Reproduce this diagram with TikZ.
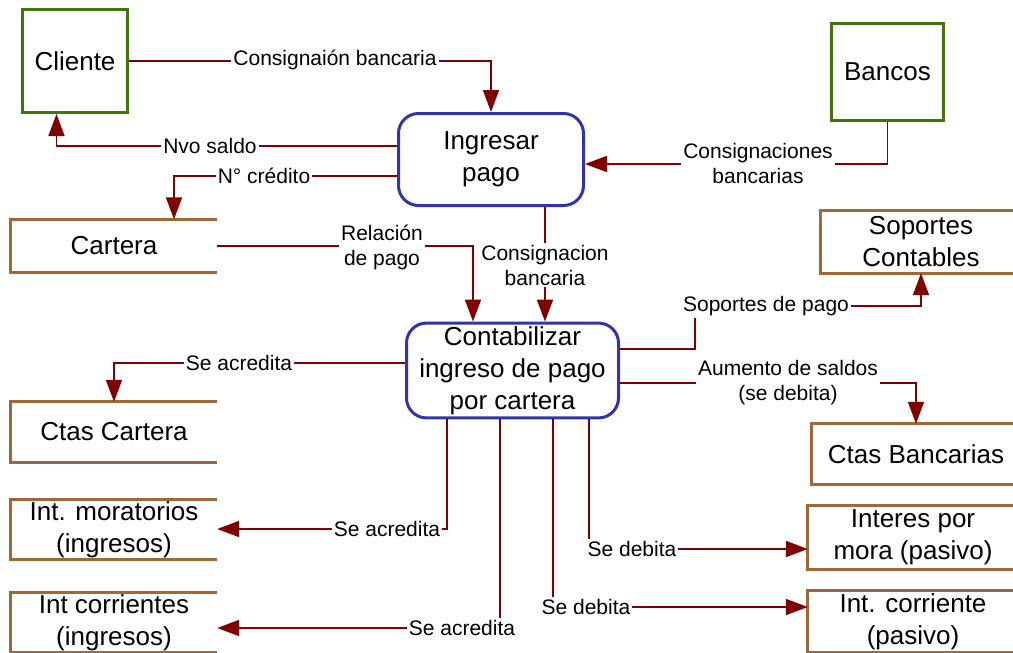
\documentclass[tikz,border=0pt]{standalone}
\usepackage{fontspec}
\setmainfont{Liberation Sans}
\usepackage{xcolor}
\usepackage{tikz}
\usetikzlibrary{arrows.meta, positioning}

\definecolor{verde}{RGB}{64,118,16}
\definecolor{azul}{RGB}{51,51,170}
\definecolor{rojo}{RGB}{128,0,0}
\definecolor{cafe}{RGB}{160,104,56}
\newcommand{\titulo}{\fontsize{26}{32}\selectfont}
\newcommand{\rotulo}{\fontsize{21}{25}\selectfont}

\begin{document}
\begin{tikzpicture}[x=1pt, y=-1pt, >={Triangle[length=22pt, width=16pt]},
    entidad/.style={draw=verde, line width=3pt, font=\titulo},
    proceso/.style={draw=azul, line width=3pt, rounded corners=20pt, align=center, font=\titulo},
    almacen/.style={align=center, font=\titulo, inner sep=0pt},
    bordealmacen/.style={draw=cafe, line width=3pt},
    flujo/.style={draw=rojo, line width=1.8pt},
    etiqueta/.style={fill=white, align=center, inner sep=2pt, font=\rotulo}]
    \useasboundingbox (0,0) rectangle (1013,653);
    \coordinate (borde) at (1013,0);

    % Entidades externas
    \node[entidad, minimum width=105, minimum height=103] (cliente) at (75,61) {Cliente};
    \node[entidad, minimum width=112, minimum height=97] (bancos) at (887.5,72) {Bancos};

    % Procesos
    \node[proceso, minimum width=185, minimum height=92] (ingresar) at (491,159.5) {Ingresar\\pago};
    \node[proceso, minimum width=212, minimum height=92] (contab) at (512.5,370.5)
        {Contabilizar\\ingreso de pago\\por cartera};

    % Almacenes
    \node[almacen, minimum width=206, minimum height=53] (cartera) at (114,246) {Cartera};
    \node[almacen, minimum width=206, minimum height=60] (ctascartera) at (114,432) {Ctas Cartera};
    \node[almacen, minimum width=206, minimum height=59] (intmora) at (114,529.5) {Int. moratorios\\(ingresos)};
    \node[almacen, minimum width=206, minimum height=59] (intcorr) at (114,622.5) {Int corrientes\\(ingresos)};
    \node[almacen, minimum width=200, minimum height=62] (soportes) at (921,242) {Soportes\\Contables};
    \node[almacen, minimum width=208, minimum height=60] (ctasbanc) at (916,454) {Ctas Bancarias};
    \node[almacen, minimum width=210, minimum height=63] (intpasmora) at (913,537.5) {Interes por\\mora (pasivo)};
    \node[almacen, minimum width=210, minimum height=61] (intpascorr) at (913,621.5) {Int. corriente\\(pasivo)};

    \foreach \n in {cartera, ctascartera, intmora, intcorr}
        \draw[bordealmacen] (\n.north east) -- (\n.north west) -- (\n.south west) -- (\n.south east);
    \foreach \n in {soportes, ctasbanc, intpasmora, intpascorr}
        \draw[bordealmacen] (\n.north west -| borde) -- (\n.north west) -- (\n.south west) -- (\n.south west -| borde);

    % Flujos de Ingresar pago
    \draw[flujo, ->] (cliente.east) -| (ingresar.north);
    \node[etiqueta] (lconsig) at (335,60) {Consignaión bancaria};
    \draw[flujo, ->] ([yshift=13.5pt]ingresar.west) -| ([xshift=-18.5pt]cliente.south);
    \node[etiqueta] (lnvo) at (210,146) {Nvo saldo};
    \draw[flujo, ->] ([yshift=-16.5pt]ingresar.west) -| ([xshift=60pt]cartera.north);
    \node[etiqueta] (lcredito) at (264,176) {N° crédito};
    \draw[flujo, ->] (bancos.south) |- ([yshift=-4.5pt]ingresar.east);
    \node[etiqueta] (lconsbancos) at (758,163) {Consignaciones\\bancarias};

    % Flujos hacia Contabilizar
    \draw[flujo, ->] (cartera.east) -| ([xshift=-39.5pt]contab.north);
    \node[etiqueta] (lrelacion) at (382,247) {Relación\\de pago};
    \draw[flujo, ->] ([xshift=54pt]ingresar.south) -- ([xshift=54pt]ingresar.south |- contab.north);
    \node[etiqueta] (lconsbanc) at (545,265) {Consignacion\\bancaria};

    % Flujos de Contabilizar
    \draw[flujo, ->] ([yshift=21.5pt]contab.east) -| (695,306) -| (soportes.south);
    \node[etiqueta] (lsoportes) at (766,306) {Soportes de pago};
    \draw[flujo, ->] ([yshift=-12.5pt]contab.east) -| (ctasbanc.north);
    \node[etiqueta] (laumento) at (788,383) {Aumento de saldos\\(se debita)};
    \draw[flujo, ->] ([yshift=7.5pt]contab.west) -| (ctascartera.north);
    \node[etiqueta] (lacred1) at (239,363) {Se acredita};
    \draw[flujo, ->] ([xshift=-65.5pt]contab.south) |- ([yshift=0.5pt]intmora.east);
    \node[etiqueta] (lacred2) at (387,529) {Se acredita};
    \draw[flujo, ->] ([xshift=-12.5pt]contab.south) |- ([yshift=-5.5pt]intcorr.east);
    \node[etiqueta] (lacred3) at (462,628) {Se acredita};
    \draw[flujo, ->] ([xshift=76.5pt]contab.south) |- ([yshift=-11.5pt]intpasmora.west);
    \node[etiqueta] (ldebit1) at (632,549) {Se debita};
    \draw[flujo, ->] ([xshift=40.5pt]contab.south) |- ([yshift=14.5pt]intpascorr.west);
    \node[etiqueta] (ldebit2) at (586,607) {Se debita};
\end{tikzpicture}
\end{document}
